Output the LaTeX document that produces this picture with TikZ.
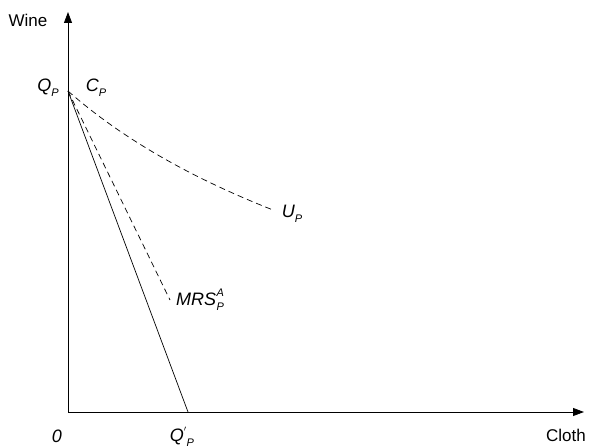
\documentclass[tikz,border=0pt]{standalone}
\usepackage{fontspec}
\setmainfont{Liberation Sans}
\usetikzlibrary{arrows.meta}
\newcommand{\sbs}[1]{\raisebox{-0.55ex}{\fontsize{11}{12}\selectfont\itshape #1}}
\begin{document}
\begin{tikzpicture}[x=1pt,y=-1pt,
  axis/.style={line width=0.8pt,-{Triangle[length=11pt,width=8pt]}},
  dashln/.style={dash pattern=on 6pt off 4pt,line width=0.7pt},
  lbl/.style={font=\fontsize{18}{20}\selectfont\itshape,inner sep=0pt},
  albl/.style={font=\fontsize{17}{20}\selectfont,inner sep=0pt}]
\useasboundingbox (0,0) rectangle (596,446);
\coordinate (O) at (68,412);
\coordinate (ytop) at (68,12);
\coordinate (xend) at (584,412);
\coordinate (QP) at (68,91);
\coordinate (QPp) at (188,412);
\coordinate (MRSe) at (170,300);
\coordinate (UPe) at (273,210);
\draw[axis] (O) -- (ytop);
\draw[axis] (O) -- (xend);
\draw[line width=0.7pt] (QP) -- (QPp);
\draw[dashln] (QP) -- (MRSe);
\draw[dashln] (QP) .. controls (128,144) and (202,182) .. (UPe);
\node[albl] (wine) at (28,20) {Wine};
\node[albl] (cloth) at (566,435) {Cloth};
\node[lbl] (zero) at (57,436) {0};
\node[lbl] (qp) at (48,88) {Q\sbs{P}};
\node[lbl] (cp) at (96,88) {C\sbs{P}};
\node[lbl] (up) at (292,214) {U\sbs{P}};
\node[lbl,anchor=west] (mrs) at (176,300) {MRS\kern0.5pt\raisebox{0.9ex}{\rlap{\fontsize{11}{12}\selectfont\itshape A}}\sbs{P}};
\node[lbl] (qpp) at (182,437) {Q\raisebox{0.6ex}{\fontsize{11}{12}\selectfont$'$}\sbs{P}};
\end{tikzpicture}
\end{document}
